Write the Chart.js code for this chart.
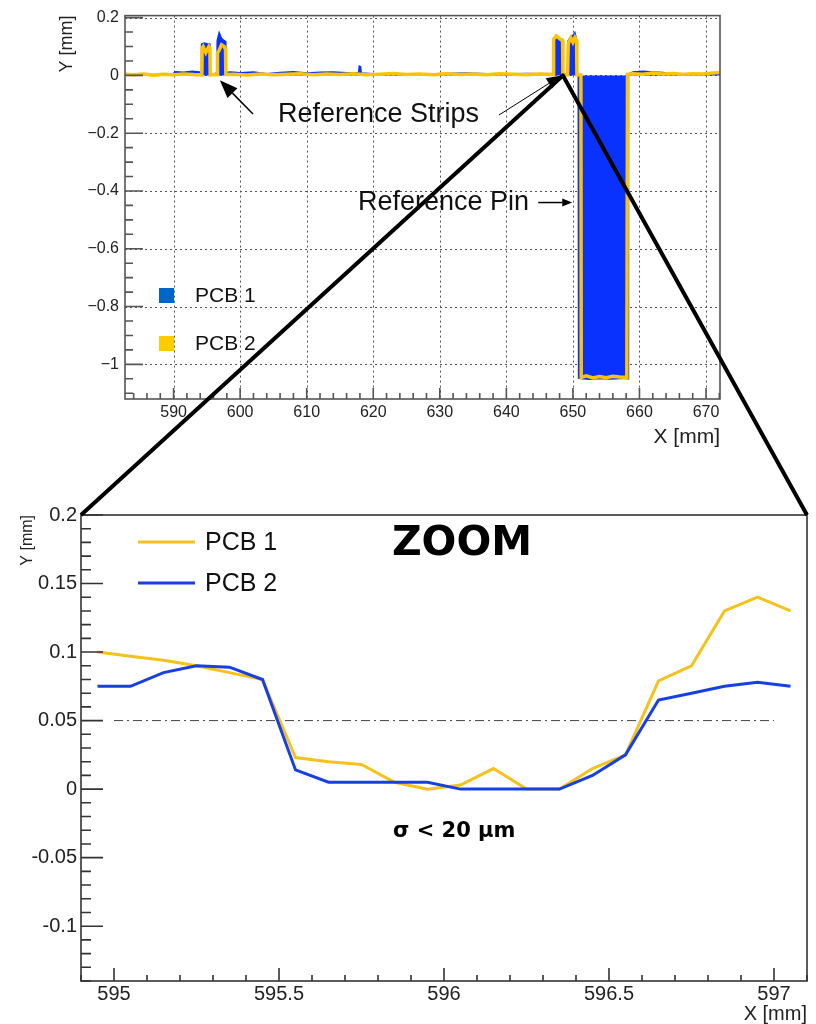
<!DOCTYPE html>
<html>
<head>
<meta charset="utf-8">
<script src="https://cdn.jsdelivr.net/npm/chart.js@4.4.0/dist/chart.umd.min.js"></script>
<style>
  html, body { margin: 0; padding: 0; background: #fff; }
  #page { position: relative; width: 816px; height: 1024px; }
  canvas { position: absolute; left: 0; }
  #overview { top: 0; }
  #zoom { top: 460px; }
  #marks { top: 0; pointer-events: none; }
</style>
</head>
<body>
<div id="page">
  <canvas id="overview" width="816" height="460"></canvas>
  <canvas id="zoom" width="816" height="564"></canvas>
  <canvas id="marks" width="816" height="1024"></canvas>
</div>
<script>
// --- overview scan (top plot), mm ---
// PCB 1 (blue, filled)
const pcb1X = [
  582.7, 585, 588, 589.8, 590.3, 591.5, 592.8, 593.9, 594.15,
  594.2, 594.6, 595.0, 595.45, 595.5, 596.0, 596.5,
  596.55, 596.85, 597.2, 597.5, 597.8, 597.85,
  598.5, 600, 602, 604, 606, 608, 610, 612, 614, 616, 617.8, 617.9, 618.1, 618.2, 620, 622, 625, 628, 631, 634, 637, 640, 643, 646, 647.0,
  647.05, 647.5, 648.0, 648.45, 648.5, 649.2,
  649.25, 649.7, 650.1, 650.3, 650.6, 650.65, 650.8,
  650.85, 651.5, 652.5, 653.5, 654.5, 655.5, 656.5, 657.5, 658.3,
  658.35, 659, 660.5, 662, 663.5, 665, 667, 669, 671, 672.1
];
const pcb1Y = [
  0.002, 0.003, 0.002, 0.004, 0.013, 0.011, 0.014, 0.012, 0.004,
  0.108, 0.112, 0.110, 0.108, 0.006, 0.005, 0.008,
  0.120, 0.148, 0.128, 0.122, 0.118, 0.010,
  0.012, 0.009, 0.012, 0.006, 0.010, 0.013, 0.008, 0.011, 0.012, 0.009, 0.010, 0.032, 0.030, 0.008, 0.006, 0.005, 0.004, 0.005, 0.007, 0.008, 0.006, 0.005, 0.007, 0.006, 0.005,
  0.125, 0.133, 0.128, 0.125, 0.004, 0.003,
  0.118, 0.135, 0.140, 0.148, 0.120, 0.002, 0.000,
  -1.048, -1.050, -1.052, -1.050, -1.049, -1.051, -1.050, -1.048, -1.050,
  0.004, 0.012, 0.014, 0.012, 0.010, 0.006, 0.004, 0.005, 0.008, 0.006
];
// PCB 2 (yellow line)
const pcb2X = [
  582.7, 584, 585.5, 587, 588.5, 590, 591.5, 593, 594.25,
  594.3, 594.45, 594.85, 595.3, 595.45, 595.5,
  596.0, 596.55,
  596.6, 596.8, 597.2, 597.6, 597.8, 597.85,
  599, 601, 603, 605, 607, 609, 611, 613, 615, 617, 619, 621, 623, 625, 627, 629, 631, 633, 635, 637, 639, 641, 643, 645, 647.05,
  647.1, 647.5, 648.1, 648.45, 648.5, 649.2,
  649.3, 649.7, 650.0, 650.3, 650.55, 650.6, 651.2,
  651.25, 652, 653, 654, 655, 656, 657, 658.1,
  658.2, 659, 660.5, 662, 663.5, 665, 666.5, 668, 669.5, 671, 672.1
];
const pcb2Y = [
  0.004, 0.002, 0.005, 0.001, 0.004, 0.002, 0.005, 0.003, 0.002,
  0.095, 0.100, 0.079, 0.100, 0.095, 0.002,
  0.003, 0.002,
  0.078, 0.085, 0.106, 0.100, 0.090, 0.003,
  0.004, 0.001, 0.005, 0.002, 0.004, 0.006, 0.002, 0.005, 0.003, 0.006, 0.002, 0.004, 0.007, 0.003, 0.005, 0.002, 0.006, 0.003, 0.005, 0.002, 0.006, 0.004, 0.002, 0.005, 0.003,
  0.125, 0.137, 0.126, 0.120, 0.003, 0.002,
  0.110, 0.130, 0.115, 0.131, 0.120, 0.002, 0.001,
  -1.045, -1.040, -1.047, -1.042, -1.046, -1.041, -1.044, -1.045,
  0.004, 0.006, 0.004, 0.008, 0.005, 0.007, 0.004, 0.006, 0.005, 0.008, 0.010
];

// --- zoom on the first reference strip edge ---
const zoomX = [594.95, 595.05, 595.15, 595.25, 595.35, 595.45, 595.55, 595.65, 595.75, 595.85, 595.95,
               596.05, 596.15, 596.25, 596.35, 596.45, 596.55, 596.65, 596.75, 596.85, 596.95, 597.05];
const pcb1Zoom = [0.100, 0.097, 0.094, 0.090, 0.085, 0.080, 0.023, 0.020, 0.018, 0.005, 0.000,
                  0.003, 0.015, 0.000, 0.000, 0.015, 0.025, 0.079, 0.090, 0.130, 0.140, 0.130];
const pcb2Zoom = [0.075, 0.075, 0.085, 0.090, 0.089, 0.080, 0.014, 0.005, 0.005, 0.005, 0.005,
                  0.000, 0.000, 0.000, 0.000, 0.010, 0.025, 0.065, 0.070, 0.075, 0.078, 0.075];
const limitX = [595, 597];
const limitY = [0.05, 0.05];

const BLUE = '#0a32ff';
const YELLOW = '#ffc400';

Chart.defaults.font.family = '"Liberation Sans", Arial, sans-serif';
Chart.defaults.color = '#222';

const pts = (xs, ys) => xs.map((x, i) => ({ x: x, y: ys[i] }));

// ROOT like frame: inner major/minor ticks + optional dotted grid
const rootAxes = {
  id: 'rootAxes',
  beforeDatasetsDraw(chart, args, o) {
    if (!o.grid) return;
    const { ctx, chartArea: a, scales: { x, y } } = chart;
    ctx.save();
    ctx.strokeStyle = '#555';
    ctx.lineWidth = 1;
    ctx.setLineDash([2, 3]);
    ctx.beginPath();
    x.ticks.forEach(t => {
      const p = Math.round(x.getPixelForValue(t.value)) + 0.5;
      ctx.moveTo(p, a.top); ctx.lineTo(p, a.bottom);
    });
    y.ticks.forEach(t => {
      const p = Math.round(y.getPixelForValue(t.value)) + 0.5;
      ctx.moveTo(a.left, p); ctx.lineTo(a.right, p);
    });
    ctx.stroke();
    ctx.restore();
  },
  afterDraw(chart, args, o) {
    const { ctx, chartArea: a, scales: { x, y } } = chart;
    ctx.save();
    ctx.strokeStyle = o.color;
    ctx.lineWidth = o.width;
    ctx.strokeRect(a.left, a.top, a.right - a.left, a.bottom - a.top);
    const each = (sc, minor, major, fn) => {
      for (let k = Math.ceil(sc.min / minor - 1e-6); k * minor <= sc.max + 1e-9; k++) {
        const v = k * minor;
        const isMajor = Math.abs(v / major - Math.round(v / major)) < 1e-6;
        fn(sc.getPixelForValue(v), isMajor);
      }
    };
    ctx.beginPath();
    each(x, o.xMinor, o.xMajor, (p, m) => { ctx.moveTo(p, a.bottom); ctx.lineTo(p, a.bottom - (m ? o.xLen[0] : o.xLen[1])); });
    each(y, o.yMinor, o.yMajor, (p, m) => { ctx.moveTo(a.left, p); ctx.lineTo(a.left + (m ? o.yLen[0] : o.yLen[1]), p); });
    ctx.stroke();
    ctx.restore();
  }
};

// legend squares for the overview
const overviewLegend = {
  id: 'overviewLegend',
  afterDraw(chart) {
    const ctx = chart.ctx;
    const rows = [['PCB 1', '#0066cc', 295], ['PCB 2', '#ffcc00', 343]];
    ctx.save();
    ctx.font = '21px "Liberation Sans", Arial, sans-serif';
    ctx.textBaseline = 'middle';
    rows.forEach(r => {
      ctx.fillStyle = r[1];
      ctx.fillRect(159, r[2] - 7, 15, 15);
      ctx.fillStyle = '#111';
      ctx.fillText(r[0], 195, r[2] + 1);
    });
    ctx.restore();
  }
};

// legend + texts of the zoom plot
const zoomExtras = {
  id: 'zoomExtras',
  afterDraw(chart) {
    const ctx = chart.ctx;
    ctx.save();
    ctx.font = '25px "Liberation Sans", Arial, sans-serif';
    ctx.textBaseline = 'middle';
    [[0, 82], [1, 123]].forEach(r => {
      const ds = chart.data.datasets[r[0]];
      ctx.strokeStyle = ds.borderColor;
      ctx.lineWidth = 3;
      ctx.beginPath(); ctx.moveTo(138, r[1]); ctx.lineTo(195, r[1]); ctx.stroke();
      ctx.fillStyle = '#111';
      ctx.fillText(ds.label, 205, r[1] + 1);
    });
    ctx.fillStyle = '#000';
    ctx.textBaseline = 'alphabetic';
    ctx.textAlign = 'center';
    ctx.font = 'bold 41px "DejaVu Sans", sans-serif';
    ctx.fillText('ZOOM', 462, 95);
    ctx.textAlign = 'left';
    ctx.font = 'bold 21px "DejaVu Sans", sans-serif';
    ctx.fillText('σ < 20 µm', 393, 377);
    ctx.restore();
  }
};

const signLabel = v => {
  const r = Math.round(v * 100) / 100;
  return r < 0 ? '\u2212' + Math.abs(r) : String(r);
};

const overview = new Chart(document.getElementById('overview'), {
  type: 'line',
  data: {
    datasets: [
      { label: 'PCB 2', data: pts(pcb2X, pcb2Y), borderColor: YELLOW, borderWidth: 3.5, pointRadius: 0, fill: false, order: 0 },
      { label: 'PCB 1', data: pts(pcb1X, pcb1Y), borderColor: BLUE, backgroundColor: BLUE, borderWidth: 1.5, pointRadius: 0, fill: 'origin', order: 1 }
    ]
  },
  options: {
    responsive: false,
    animation: false,
    events: [],
    layout: { padding: { left: 0, top: 11, right: 96, bottom: 0 } },
    plugins: {
      legend: { display: false },
      tooltip: { enabled: false },
      rootAxes: { grid: true, color: '#555', width: 1.6, xMinor: 2, xMajor: 10, xLen: [11, 6], yMinor: 0.05, yMajor: 0.2, yLen: [18, 8] }
    },
    scales: {
      x: {
        type: 'linear', min: 582.7, max: 672.1,
        grid: { display: false, drawTicks: false }, border: { display: false },
        ticks: { stepSize: 10, includeBounds: false, autoSkip: false, maxRotation: 0, padding: 4, font: { size: 16 } },
        title: { display: true, text: 'X [mm]', align: 'end', font: { size: 21 }, padding: { top: 0, bottom: 10 } },
        afterFit: s => { s.height = 61; }
      },
      y: {
        type: 'linear', min: -1.12, max: 0.207,
        grid: { display: false, drawTicks: false }, border: { display: false },
        ticks: { stepSize: 0.2, includeBounds: false, autoSkip: false, padding: 6, font: { size: 16 }, callback: signLabel },
        title: { display: true, text: 'Y [mm]', align: 'end', font: { size: 18 }, padding: { top: 56, bottom: 0 } },
        afterFit: s => { s.width = 125; }
      }
    }
  },
  plugins: [rootAxes, overviewLegend]
});

const zoom = new Chart(document.getElementById('zoom'), {
  type: 'line',
  data: {
    datasets: [
      { label: 'PCB 1', data: pts(zoomX, pcb1Zoom), borderColor: '#f5c21b', borderWidth: 3, pointRadius: 0, order: 2 },
      { label: 'PCB 2', data: pts(zoomX, pcb2Zoom), borderColor: '#173fe6', borderWidth: 3, pointRadius: 0, order: 1 },
      { label: 'limit', data: pts(limitX, limitY), borderColor: '#444', borderWidth: 1, borderDash: [9, 4, 2, 4], pointRadius: 0, order: 3 }
    ]
  },
  options: {
    responsive: false,
    animation: false,
    events: [],
    layout: { padding: { left: 0, top: 55, right: 9, bottom: 0 } },
    plugins: {
      legend: { display: false },
      tooltip: { enabled: false },
      rootAxes: { grid: false, color: '#333', width: 1.6, xMinor: 0.1, xMajor: 0.5, xLen: [13, 6], yMinor: 0.01, yMajor: 0.05, yLen: [22, 10] }
    },
    scales: {
      x: {
        type: 'linear', min: 594.9, max: 597.1,
        grid: { display: false, drawTicks: false }, border: { display: false },
        ticks: { stepSize: 0.5, includeBounds: false, autoSkip: false, maxRotation: 0, padding: 3, font: { size: 20, lineHeight: 1 },
                 callback: v => String(Math.round(v * 100) / 100) },
        title: { display: true, text: 'X [mm]', align: 'end', font: { size: 20, lineHeight: 1 }, padding: { top: 0, bottom: 0 } },
        afterFit: s => { s.height = 43; }
      },
      y: {
        type: 'linear', min: -0.14, max: 0.2,
        grid: { display: false, drawTicks: false }, border: { display: false },
        ticks: { stepSize: 0.05, includeBounds: false, autoSkip: false, padding: 4, font: { size: 20 },
                 callback: v => String(Math.round(v * 100) / 100) },
        title: { display: true, text: 'Y [mm]', align: 'end', font: { size: 16 }, padding: { top: 18, bottom: 0 } },
        afterFit: s => { s.width = 81; }
      }
    }
  },
  plugins: [rootAxes, zoomExtras]
});

// overlay: zoom lines and arrows across both plots
const mk = document.getElementById('marks').getContext('2d');
const zoomTop = 460;
const tp = (x, y) => [overview.scales.x.getPixelForValue(x), overview.scales.y.getPixelForValue(y)];

function arrow(x1, y1, x2, y2, w, head, half) {
  const ang = Math.atan2(y2 - y1, x2 - x1);
  const bx = x2 - head * Math.cos(ang), by = y2 - head * Math.sin(ang);
  mk.lineWidth = w;
  mk.beginPath(); mk.moveTo(x1, y1); mk.lineTo(bx, by); mk.stroke();
  mk.beginPath();
  mk.moveTo(x2, y2);
  mk.lineTo(bx + half * Math.sin(ang), by - half * Math.cos(ang));
  mk.lineTo(bx - half * Math.sin(ang), by + half * Math.cos(ang));
  mk.closePath(); mk.fill();
}

mk.strokeStyle = '#000';
mk.fillStyle = '#000';

const za = zoom.chartArea;
const apex = tp(648.5, 0);
mk.lineWidth = 4;
mk.lineJoin = 'round';
mk.beginPath();
mk.moveTo(za.left, za.top + zoomTop);
mk.lineTo(apex[0], apex[1]);
mk.lineTo(za.right, za.top + zoomTop);
mk.stroke();

mk.font = '27px "Liberation Sans", Arial, sans-serif';
mk.fillStyle = '#111';
mk.fillText('Reference Strips', 278, 122);
mk.fillText('Reference Pin', 358, 210);
mk.fillStyle = '#000';

const t1 = tp(596.95, -0.017);
arrow(253, 114, t1[0], t1[1], 1.5, 18, 7);
const t2 = tp(648.3, 0);
arrow(499, 115, t2[0], t2[1], 1, 15, 6);
const t3 = tp(649.9, -0.44);
arrow(t3[0] - 34, t3[1], t3[0], t3[1], 1.5, 10, 4);
</script>
</body>
</html>
